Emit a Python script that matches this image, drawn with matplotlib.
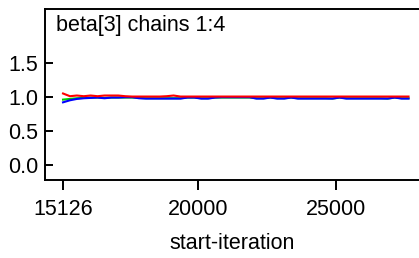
import matplotlib
matplotlib.use("Agg")
import matplotlib.pyplot as plt

plt.rcParams['font.family'] = ['Liberation Sans', 'DejaVu Sans']

title = "beta[3] chains 1:4"
xlabel = "start-iteration"
xticks = [15126, 20000, 25000]
yticks = [0.0, 0.5, 1.0, 1.5]

iterations = [15126, 15376, 15626, 15876, 16126, 16376, 16626, 16876, 17126, 17376,
              17626, 17876, 18126, 18376, 18626, 18876, 19126, 19376, 19626, 19876,
              20126, 20376, 20626, 20876, 21126, 21376, 21626, 21876, 22126, 22376,
              22626, 22876, 23126, 23376, 23626, 23876, 24126, 24376, 24626, 24876,
              25126, 25376, 25626, 25876, 26126, 26376, 26626, 26876, 27126, 27376,
              27626]

blue = [0.92, 0.95, 0.97, 0.98, 0.985, 0.99, 0.98, 0.99, 0.99, 0.995,
        0.995, 0.98, 0.975, 0.975, 0.975, 0.975, 0.975, 0.975, 0.99, 0.99,
        0.975, 0.975, 0.99, 0.995, 0.995, 0.995, 0.995, 0.995, 0.975, 0.975,
        0.99, 0.975, 0.975, 0.99, 0.975, 0.975, 0.975, 0.975, 0.975, 0.975,
        0.99, 0.975, 0.975, 0.975, 0.975, 0.975, 0.975, 0.975, 0.99, 0.975,
        0.975]

green = [0.96, 0.97, 0.98, 0.985, 0.99, 0.99, 0.985, 0.99, 0.99, 0.99,
         0.99, 0.985, 0.98, 0.98, 0.98, 0.98, 0.98, 0.98, 0.99, 0.99,
         0.98, 0.98, 0.99, 0.99, 0.99, 0.99, 0.99, 0.99, 0.98, 0.98,
         0.99, 0.98, 0.98, 0.99, 0.98, 0.98, 0.98, 0.98, 0.98, 0.975,
         0.99, 0.98, 0.98, 0.98, 0.98, 0.98, 0.98, 0.975, 0.99, 0.98,
         0.98]

red = [1.05, 1.01, 1.02, 1.01, 1.02, 1.01, 1.02, 1.02, 1.02, 1.01,
       1.005, 1.005, 1.005, 1.005, 1.005, 1.01, 1.02, 1.005, 1.005, 1.005,
       1.005, 1.005, 1.005, 1.005, 1.005, 1.005, 1.005, 1.005, 1.005, 1.005,
       1.005, 1.005, 1.005, 1.005, 1.005, 1.005, 1.005, 1.005, 1.005, 1.005,
       1.005, 1.005, 1.005, 1.005, 1.005, 1.005, 1.005, 1.005, 1.005, 1.005,
       1.005]

fig = plt.figure(figsize=(4.19, 2.58), dpi=100)
ax = fig.add_axes([45/419, 78/258, 1 - 45/419, 171/258])

ax.plot(iterations, green, color='#00cc00', lw=1.5, zorder=2)
ax.plot(iterations, blue, color='#0000ff', lw=1.5, zorder=3)
ax.plot(iterations, red, color='#ff0000', lw=1.5, zorder=4)

ax.set_xlim(14474, 28005)
ax.set_ylim(-0.22, 2.29)
ax.set_xticks(xticks)
ax.set_xticklabels([str(t) for t in xticks])
ax.set_yticks(yticks)
ax.set_yticklabels([f"{t:.1f}" for t in yticks])

for s in ['left', 'bottom', 'top']:
    ax.spines[s].set_linewidth(1.4)
ax.spines['right'].set_visible(False)

ax.tick_params(axis='y', direction='in', length=6, width=1.4, labelsize=15.5, pad=5)
ax.tick_params(axis='x', direction='out', length=7, width=1.4, labelsize=15.5, pad=7)

ax.set_xlabel(xlabel, fontsize=15.5, labelpad=9)
ax.text((56 - 45) / (419 - 45), (180 - 25) / 171, title, transform=ax.transAxes,
        fontsize=15.5, ha='left', va='center')

fig.savefig("out.png", dpi=100)
